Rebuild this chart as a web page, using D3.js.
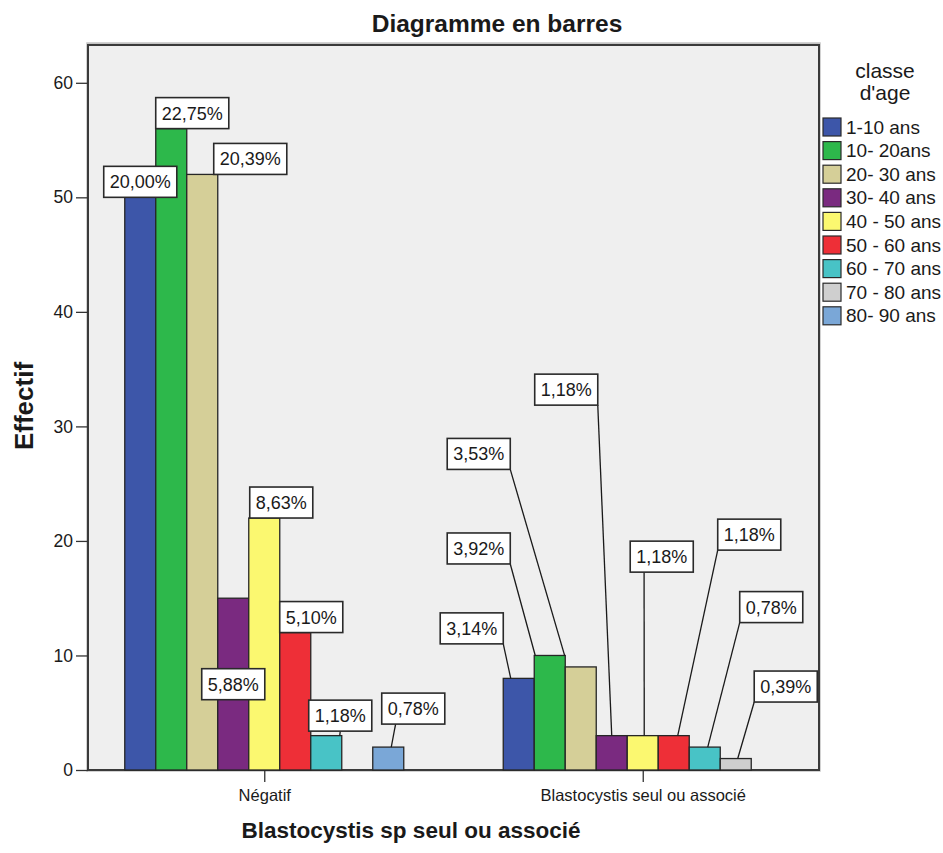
<!DOCTYPE html>
<html>
<head>
<meta charset="utf-8">
<script src="https://cdn.jsdelivr.net/npm/d3@7"></script>
<style>
  body { margin: 0; background: #ffffff; }
  text { font-family: "Liberation Sans", Arial, sans-serif; fill: #1a1a1a; }
</style>
</head>
<body>
<svg id="chart" width="943" height="853"></svg>
<script>
// ---- data ----
const groups = ["Négatif", "Blastocystis seul ou associé"];
const ageClasses = ["1-10 ans", "10- 20ans", "20- 30 ans", "30- 40 ans", "40 - 50 ans",
                    "50 - 60 ans", "60 - 70 ans", "70 - 80 ans", "80- 90 ans"];
const countsNegatif = [50, 56, 52, 15, 22, 12, 3, 0, 2];
const countsBlasto  = [8, 10, 9, 3, 3, 3, 2, 1, 0];
const pctNegatif = ["20,00%", "22,75%", "20,39%", "5,88%", "8,63%", "5,10%", "1,18%", null, "0,78%"];
const pctBlasto  = ["3,14%", "3,92%", "3,53%", "1,18%", "1,18%", "1,18%", "0,78%", "0,39%", null];
const yTicks = [0, 10, 20, 30, 40, 50, 60];

const ageColors = ["#3d56a9", "#2db84b", "#d5cf98", "#7a2a80", "#fbf870",
                   "#ee2f37", "#48c3c6", "#cfcfcf", "#7aa7d7"];

// label placement: box centre offset from the bar's top centre (px),
// optional leader line from the box bottom (fx = fraction of half width)
// to a point offset from the bar's top centre
const labelLayout = [
  [
    { bx: 0,   by: -15.5 },
    { bx: 21,  by: -15.5 },
    { bx: 48,  by: -15.5 },
    { bx: 0,   by: 86 },
    { bx: 17,  by: -15.5 },
    { bx: 16,  by: -15.5 },
    { bx: 14,  by: -20,   line: { fx: 0,     ex: 13.5, ey: 0 } },
    null,
    { bx: 25,  by: -38.5, line: { fx: -0.56, ex: 3,    ey: 0 } }
  ],
  [
    { bx: -47,   by: -50,  line: { fx: 1,     ex: -8,    ey: 0 } },
    { bx: -71,   by: -107, line: { fx: 1,     ex: -14.5, ey: 0 } },
    { bx: -102,  by: -213, line: { fx: 1,     ex: -16,   ey: -11 } },
    { bx: -45.5, by: -346, line: { fx: 1,     ex: 0,     ey: 0 } },
    { bx: 19,    by: -179, line: { fx: -0.56, ex: 1.5,   ey: 0 } },
    { bx: 75.5,  by: -201, line: { fx: -1,    ex: 4,     ey: 0 } },
    { bx: 66.5,  by: -140, line: { fx: -1,    ex: 3,     ey: 0 } },
    { bx: 50,    by: -72,  line: { fx: -1,    ex: 2,     ey: 0 } },
    null
  ]
];

const tableCounts = [countsNegatif, countsBlasto];
const tablePct = [pctNegatif, pctBlasto];
const rows = [];
groups.forEach((g, gi) => ageClasses.forEach((a, ai) => {
  rows.push({ group: g, gi, age: a, ai, value: tableCounts[gi][ai], pct: tablePct[gi][ai] });
}));

// ---- layout ----
const svg = d3.select("#chart");
const frame = { left: 88, top: 45, right: 819, bottom: 770 };

const y = d3.scaleLinear().domain([0, 63.3]).range([frame.bottom, frame.top]);
const x0 = d3.scalePoint().domain(groups).range([frame.left, frame.right]).padding(0.4657);
const x1 = d3.scaleBand().domain(ageClasses).range([-139.5, 139.5]).padding(0);
const color = d3.scaleOrdinal().domain(ageClasses).range(ageColors);

// title
svg.append("text")
  .attr("x", 497).attr("y", 32)
  .attr("text-anchor", "middle")
  .style("font-size", "24.5px").style("font-weight", "bold")
  .text("Diagramme en barres");

// plot frame
svg.append("rect")
  .attr("x", frame.left).attr("y", frame.top - 1)
  .attr("width", frame.right - frame.left).attr("height", frame.bottom - frame.top + 1)
  .attr("fill", "none").attr("stroke", "#c4c4c4").attr("stroke-width", 3.5);
svg.append("rect")
  .attr("x", frame.left).attr("y", frame.top)
  .attr("width", frame.right - frame.left).attr("height", frame.bottom - frame.top)
  .attr("fill", "#efefef").attr("stroke", "#3a3a3a").attr("stroke-width", 2);

// y axis
const yAxis = svg.append("g")
  .attr("transform", `translate(${frame.left},0)`)
  .call(d3.axisLeft(y).tickValues(yTicks).tickSize(12).tickPadding(3).tickFormat(d3.format("d")));
yAxis.select(".domain").remove();
yAxis.selectAll(".tick line").attr("stroke", "#333").attr("stroke-width", 1.3);
yAxis.selectAll(".tick text").style("font-size", "17.5px").style("font-family", "'Liberation Sans', Arial, sans-serif").attr("fill", "#1a1a1a");

// x axis
const xAxis = svg.append("g")
  .attr("transform", `translate(0,${frame.bottom})`)
  .call(d3.axisBottom(x0).tickSize(12).tickPadding(7));
xAxis.select(".domain").remove();
xAxis.selectAll(".tick line").attr("stroke", "#333").attr("stroke-width", 1.3);
xAxis.selectAll(".tick text").style("font-size", "16.5px").style("font-family", "'Liberation Sans', Arial, sans-serif").attr("fill", "#1a1a1a");

// axis titles
svg.append("text")
  .attr("x", 411).attr("y", 838)
  .attr("text-anchor", "middle")
  .style("font-size", "22.5px").style("font-weight", "bold")
  .text("Blastocystis sp seul ou associé");

svg.append("text")
  .attr("transform", "translate(33,406) rotate(-90)")
  .attr("text-anchor", "middle")
  .style("font-size", "26px").style("font-weight", "bold")
  .text("Effectif");

// bars
const barsG = svg.append("g");
barsG.selectAll("rect")
  .data(rows.filter(d => d.value > 0))
  .join("rect")
  .attr("x", d => x0(d.group) + x1(d.age))
  .attr("y", d => y(d.value))
  .attr("width", x1.bandwidth())
  .attr("height", d => y(0) - y(d.value))
  .attr("fill", d => color(d.age))
  .attr("stroke", "#262626")
  .attr("stroke-width", 1.3);

// percentage labels with leader lines
const labelsG = svg.append("g");
rows.filter(d => d.pct && labelLayout[d.gi][d.ai]).forEach(d => {
  const lay = labelLayout[d.gi][d.ai];
  const cx = x0(d.group) + x1(d.age) + x1.bandwidth() / 2;
  const top = y(d.value);
  const bcx = cx + lay.bx, bcy = top + lay.by;
  const g = labelsG.append("g");
  const t = g.append("text")
    .attr("x", bcx).attr("y", bcy + 6.5)
    .attr("text-anchor", "middle")
    .style("font-size", "18px")
    .text(d.pct);
  const w = t.node().getComputedTextLength() + 12, h = 31;
  if (lay.line) {
    labelsG.insert("line", ":first-child")
      .attr("x1", bcx + lay.line.fx * w / 2).attr("y1", bcy + h / 2)
      .attr("x2", cx + lay.line.ex).attr("y2", top + lay.line.ey)
      .attr("stroke", "#1a1a1a").attr("stroke-width", 1.3);
  }
  g.insert("rect", "text")
    .attr("x", bcx - w / 2).attr("y", bcy - h / 2)
    .attr("width", w).attr("height", h)
    .attr("fill", "#ffffff").attr("stroke", "#2a2a2a").attr("stroke-width", 1.6);
});

// legend
const legend = svg.append("g");
legend.append("text").attr("x", 885).attr("y", 78).attr("text-anchor", "middle")
  .style("font-size", "21px").attr("fill", "#333").text("classe");
legend.append("text").attr("x", 885).attr("y", 100).attr("text-anchor", "middle")
  .style("font-size", "21px").attr("fill", "#333").text("d'age");
const items = legend.selectAll("g.item").data(ageClasses).join("g")
  .attr("class", "item")
  .attr("transform", (d, i) => `translate(823,${118 + i * 23.6})`);
items.append("rect").attr("width", 18).attr("height", 18)
  .attr("fill", d => color(d)).attr("stroke", "#2a2a2a").attr("stroke-width", 1.2);
items.append("text").attr("x", 23).attr("y", 15.5)
  .style("font-size", "19px").text(d => d);
</script>
</body>
</html>
